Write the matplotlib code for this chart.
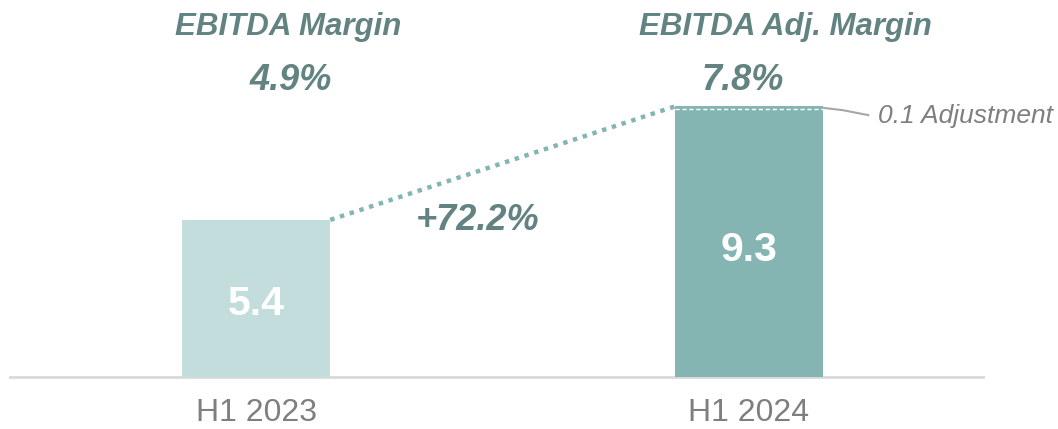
import numpy as np
import matplotlib.pyplot as plt

# data
periods = ['H1 2023', 'H1 2024']
ebitda = [5.4, 9.3]
adjustment = 0.1
margin_titles = ['EBITDA Margin', 'EBITDA Adj. Margin']
margins = ['4.9%', '7.8%']
growth = '+72.2%'

bar_colors = ['#C3DCDC', '#84B5B3']
text_col = '#638383'
gray = '#7F7F7F'

plt.rcParams['font.family'] = ['Liberation Sans', 'DejaVu Sans']

fig = plt.figure(figsize=(10.58, 4.29), dpi=100)
ax = fig.add_axes([10 / 1058, 52 / 429, 973 / 1058, 377 / 429])

x = np.arange(len(periods))
w = 0.3
ax.bar(x, ebitda, width=w, color=bar_colors, zorder=3)

# adjustment slice on top of second bar
ax.hlines(ebitda[1] - adjustment, x[1] - w / 2, x[1] + w / 2,
          colors='white', linestyles=(0, (3, 2)), lw=1, zorder=4)

# dotted connector between bar tops
ax.plot([x[0] + w / 2, x[1] - w / 2], [ebitda[0], ebitda[1]],
        color='#84B5B3', lw=3.2, linestyle=(0, (1, 1.3)),
        dash_capstyle='butt', zorder=2)

# leader line to adjustment label
ax.plot([x[1] + w / 2, x[1] + w / 2 + 0.04, x[1] + w / 2 + 0.092],
        [ebitda[1] - adjustment / 2, ebitda[1] - 0.13, ebitda[1] - 0.3],
        color='#A6A6A6', lw=1.5, zorder=2)
ax.text(1.262, 8.73, '0.1 Adjustment', fontsize=19, style='italic',
        color=gray, ha='left', va='baseline')

# values inside bars
ax.text(x[0], 2.12, f'{ebitda[0]:.1f}', fontsize=29.5, fontweight='bold',
        color='white', ha='center', va='baseline', zorder=5)
ax.text(x[1], 4.0, f'{ebitda[1]:.1f}', fontsize=29.5, fontweight='bold',
        color='white', ha='center', va='baseline', zorder=5)

# margin headers
ax.text(0.064, 11.75, margin_titles[0], fontsize=22.5, fontweight='bold',
        style='italic', color=text_col, ha='center', va='baseline')
ax.text(0.07, 9.86, margins[0], fontsize=26, fontweight='bold',
        style='italic', color=text_col, ha='center', va='baseline')
ax.text(1.075, 11.75, margin_titles[1], fontsize=22.5, fontweight='bold',
        style='italic', color=text_col, ha='center', va='baseline')
ax.text(0.988, 9.86, margins[1], fontsize=26, fontweight='bold',
        style='italic', color=text_col, ha='center', va='baseline')

ax.text(0.45, 5.05, growth, fontsize=26, fontweight='bold',
        style='italic', color=text_col, ha='center', va='baseline')

ax.set_xlim(-0.5, 1.475)
ax.set_ylim(0, 12.955)
ax.set_xticks(x)
ax.set_xticklabels(periods, fontsize=23, color=gray)
ax.tick_params(axis='x', length=0, pad=15)
ax.set_yticks([])
for s in ['top', 'right', 'left']:
    ax.spines[s].set_visible(False)
ax.spines['bottom'].set_color('#D9D9D9')
ax.spines['bottom'].set_linewidth(2)
ax.patch.set_alpha(0)

fig.savefig('out.png', dpi=100)
